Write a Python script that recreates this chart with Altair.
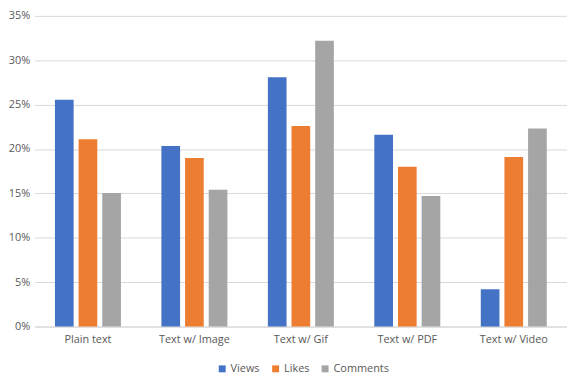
import altair as alt
import pandas as pd

categories = ["Plain text", "Text w/ Image", "Text w/ Gif", "Text w/ PDF", "Text w/ Video"]
series = ["Views", "Likes", "Comments"]
views = [0.2555, 0.2035, 0.281, 0.216, 0.042]
likes = [0.211, 0.190, 0.226, 0.180, 0.191]
comments = [0.1505, 0.154, 0.322, 0.147, 0.223]
colors = ["#4472C4", "#ED7D31", "#A5A5A5"]

rows = []
for i, c in enumerate(categories):
    for s, vals in zip(series, [views, likes, comments]):
        rows.append({"Category": c, "Series": s, "Value": vals[i]})
df = pd.DataFrame(rows)

font = "Open Sans"

chart = alt.Chart(df).mark_bar().encode(
    x=alt.X("Category:N", sort=categories, title=None,
            scale=alt.Scale(paddingInner=0.38, paddingOuter=0.19),
            axis=alt.Axis(labelAngle=0, ticks=False, domainColor="#d9d9d9",
                          labelColor="#595959", labelFontSize=11, labelFont=font,
                          labelPadding=7)),
    xOffset=alt.XOffset("Series:N", sort=series,
                        scale=alt.Scale(paddingInner=0.21, paddingOuter=0)),
    y=alt.Y("Value:Q", title=None,
            scale=alt.Scale(domain=[0, 0.35], nice=False),
            axis=alt.Axis(format=".0%", values=[0, 0.05, 0.1, 0.15, 0.2, 0.25, 0.3, 0.35],
                          ticks=False, domain=False, gridColor="#d9d9d9",
                          labelColor="#595959", labelFontSize=11, labelFont=font,
                          labelPadding=5)),
    color=alt.Color("Series:N", sort=series,
                    scale=alt.Scale(domain=series, range=colors),
                    legend=alt.Legend(orient="none", legendX=184, legendY=351,
                                      direction="horizontal", title=None,
                                      symbolType="square", symbolSize=49, symbolStrokeWidth=0,
                                      labelColor="#595959", labelFontSize=11, labelFont=font,
                                      columnPadding=10, labelOffset=3, symbolOffset=0)),
).properties(
    width=538, height=314,
    padding={"left": 0, "top": 0, "right": 0, "bottom": 0},
).configure_view(stroke=None)

chart.save("out.html", embed_options={"renderer": "svg", "actions": False})
